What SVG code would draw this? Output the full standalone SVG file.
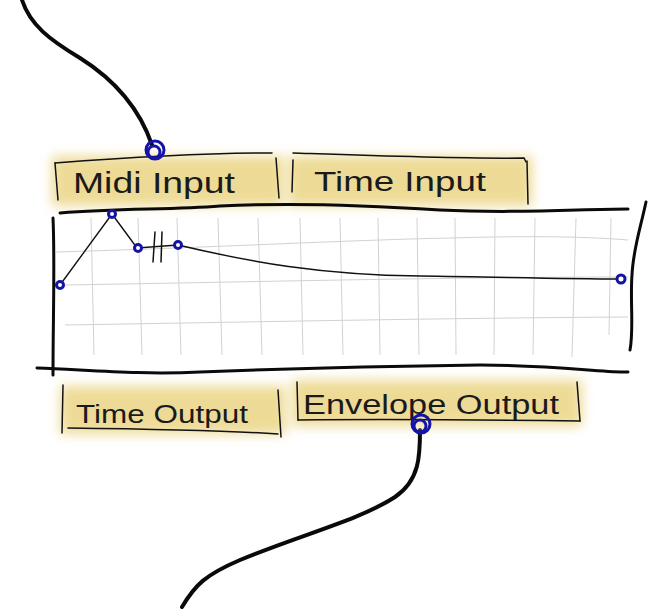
<svg xmlns="http://www.w3.org/2000/svg" width="667" height="609" viewBox="0 0 667 609">
<defs>
<filter id="soft" x="-15%" y="-40%" width="130%" height="180%"><feGaussianBlur stdDeviation="6"/></filter>
<style>
.hl{fill:#e9d27c;opacity:0.8;filter:url(#soft)}
.edge{fill:none;stroke:#111;stroke-width:1.5;stroke-linecap:round}
.heavy{fill:none;stroke:#0a0a0a;stroke-width:3;stroke-linecap:round}
.wire{fill:none;stroke:#0a0a0a;stroke-width:4;stroke-linecap:round}
.grid{fill:none;stroke:#d2d2d2;stroke-width:1}
.env{fill:none;stroke:#111;stroke-width:1.4}
.pt{fill:#fff;stroke:#1414a0;stroke-width:3}
.port{fill:none;stroke:#1414a8;stroke-width:3}
.lbl{font-family:"Liberation Sans",Arial,sans-serif;fill:#1a1a1a;font-weight:normal}
</style>
</defs>
<rect width="667" height="609" fill="#fff"/>

<g id="connectors">
<path class="wire" d="M22,0 C30,25 50,40 80,58 C115,80 140,110 152,145"/>
<path class="wire" d="M420,430 C420,455 420,480 395,497 C360,520 300,535 240,560 C205,575 195,585 182,607"/>
</g>

<g id="midi-input">
<rect class="hl" x="52" y="156" width="232" height="50"/>
<path class="edge" d="M55,163 C120,158 200,153 272,153"/>
<path class="edge" d="M55,163 L58,200"/>
<path class="edge" d="M276,158 L279,198"/>
<text class="lbl" x="73" y="193" font-size="29" textLength="162" lengthAdjust="spacingAndGlyphs">Midi Input</text>
<circle class="port" cx="155" cy="150" r="9"/>
<circle class="port" cx="154" cy="152" r="6"/>
</g>

<g id="time-input">
<rect class="hl" x="288" y="156" width="244" height="50"/>
<path class="edge" d="M293,153 C380,156 460,159 524,158 L526,162"/>
<path class="edge" d="M293,160 L292,192"/>
<path class="edge" d="M527,161 L528,204"/>
<text class="lbl" x="314" y="191" font-size="27" textLength="172" lengthAdjust="spacingAndGlyphs">Time Input</text>
</g>

<g id="envelope-graph">
<g class="grid">
<path d="M91,218 L94,355"/><path d="M138,218 L142,355"/><path d="M177,218 L181,355"/>
<path d="M218,218 L222,355"/><path d="M258,218 L262,355"/><path d="M300,218 L303,355"/>
<path d="M340,218 L343,355"/><path d="M378,218 L380,355"/><path d="M417,218 L419,355"/>
<path d="M455,218 L456,355"/><path d="M495,218 L494,355"/><path d="M535,218 L533,355"/>
<path d="M576,218 L572,357"/><path d="M611,218 L609,335"/>
<path d="M56,252 C200,248 350,240 450,238 C520,236 580,236 628,240"/>
<path d="M65,285 C250,282 450,277 628,277"/>
<path d="M65,325 C250,322 450,318 628,317"/>
</g>
<path class="heavy" d="M60,213 C120,208 170,210 220,206 C300,202 380,206 440,210 C520,214 580,209 628,209"/>
<path class="heavy" d="M53,218 C55,260 53,320 53,375"/>
<path class="heavy" d="M646,202 C640,230 633,250 632,275 C630,300 634,330 630,350"/>
<path class="heavy" d="M37,368 C90,370 140,375 200,372 C300,368 400,366 480,365 C560,365 600,373 628,372"/>
<path class="env" d="M60,285 L112,214 L137,248 L178,245 C250,262 320,275 420,276 C500,277 560,279 621,279"/>
<path class="edge" d="M155,232 L153,262"/>
<path class="edge" d="M162,232 L161,262"/>
<circle class="pt" cx="60" cy="285" r="3.5"/>
<circle class="pt" cx="112" cy="214" r="3.5"/>
<circle class="pt" cx="138" cy="248" r="3.5"/>
<circle class="pt" cx="178" cy="245" r="3.5"/>
<circle class="pt" cx="621" cy="279" r="4"/>
</g>

<g id="time-output">
<rect class="hl" x="60" y="386" width="226" height="48"/>
<path class="edge" d="M63,385 L62,433"/>
<path class="edge" d="M278,390 L281,437"/>
<path class="edge" d="M68,428 C150,429 220,430 278,434"/>
<text class="lbl" x="76" y="423" font-size="25" textLength="172" lengthAdjust="spacingAndGlyphs">Time Output</text>
</g>

<g id="envelope-output">
<rect class="hl" x="292" y="380" width="290" height="46"/>
<path class="edge" d="M297,382 L298,420"/>
<path class="edge" d="M577,382 L580,421"/>
<path class="edge" d="M298,420 C400,419 500,420 580,421"/>
<text class="lbl" x="303" y="414" font-size="27" textLength="256" lengthAdjust="spacingAndGlyphs">Envelope Output</text>
<circle class="port" cx="421" cy="424" r="9"/>
<circle class="port" cx="420" cy="426" r="6"/>
</g>
</svg>
